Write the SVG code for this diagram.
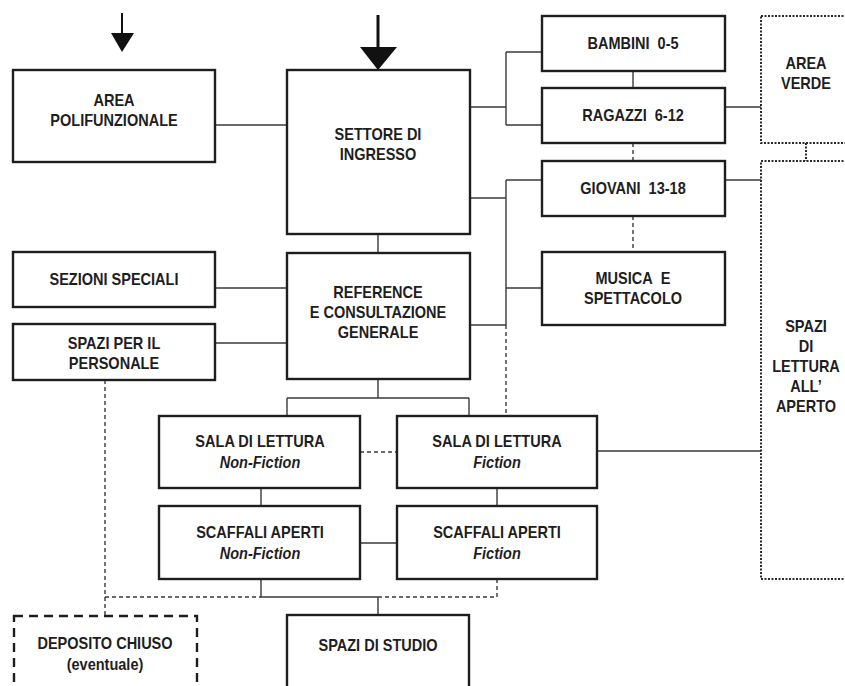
<svg xmlns="http://www.w3.org/2000/svg" width="845" height="686" viewBox="0 0 845 686">
  <style>
    .box { fill: #ffffff; stroke: #1e1e1e; stroke-width: 2.4; }
    .dashbox { fill: #ffffff; stroke: #1e1e1e; stroke-width: 2.4; stroke-dasharray: 9 6; }
    .dotbox { fill: #ffffff; stroke: #2a2a2a; stroke-width: 2; stroke-dasharray: 2 1.5; }
    .ln { fill: none; stroke: #3a3a3a; stroke-width: 1.4; }
    .dl { fill: none; stroke: #3a3a3a; stroke-width: 1.4; stroke-dasharray: 4 3; }
    .dt { fill: none; stroke: #2a2a2a; stroke-width: 2; stroke-dasharray: 2 1.5; }
    .arrow { fill: #111; }
    text { font-family: "Liberation Sans", Arial, sans-serif; font-weight: bold; font-size: 16.5px; fill: #1e1e1e; text-anchor: middle;
           transform-box: fill-box; transform-origin: center; transform: scaleX(0.88); }
    .it { font-style: italic; }
  </style>
  <rect width="845" height="686" fill="#ffffff"/>

  <!-- entrance arrows -->
  <g id="arrows">
    <line x1="122" y1="13" x2="122" y2="35" stroke="#111" stroke-width="2"/>
    <path class="arrow" d="M111 33 L134 33 L122 52 Z"/>
    <line x1="378" y1="15" x2="378" y2="49" stroke="#111" stroke-width="3"/>
    <path class="arrow" d="M360 47 L397 47 L378 70 Z"/>
  </g>

  <!-- connectors -->
  <g id="connectors">
    <!-- area polifunzionale - settore -->
    <path class="ln" d="M215 125 H287"/>
    <!-- settore - bambini / ragazzi -->
    <path class="ln" d="M470 107 H506 M506 52 V125 M506 52 H542 M506 125 H542"/>
    <!-- settore / reference - giovani, musica -->
    <path class="ln" d="M470 198 H506 M506 180 V325 M506 180 H542 M506 288 H542 M470 325 H506"/>
    <path class="dl" d="M506 325 V415"/>
    <!-- vertical chain of the youth sections -->
    <path class="ln" d="M633 71 V88"/>
    <path class="dl" d="M633 143 V161 M633 216 V252"/>
    <!-- outdoor areas -->
    <path class="ln" d="M725 107 H761 M725 180 H761 M597 451 H761"/>
    <path class="dt" d="M806 143 V161"/>
    <!-- settore - reference -->
    <path class="ln" d="M378 234 V253"/>
    <!-- side sections - reference -->
    <path class="ln" d="M215 288 H287 M215 343 H287"/>
    <!-- reference - reading rooms -->
    <path class="ln" d="M378 379 V398 M287 398 H469 M287 398 V416 M469 398 V416"/>
    <path class="dl" d="M360 452 H397"/>
    <!-- reading rooms - open shelves -->
    <path class="ln" d="M261 488 V506 M497 488 V506 M360 543 H397"/>
    <!-- open shelves - study / storage -->
    <path class="ln" d="M261 579 V597 H378 M378 597 V615"/>
    <path class="dl" d="M497 579 V597 H378"/>
    <path class="dl" d="M105 380 V597 H261 M105 597 V616"/>
  </g>

  <g id="area-polifunzionale">
    <rect class="box" x="13" y="70" width="202" height="92"/>
    <text x="114" y="106">AREA</text>
    <text x="114" y="126">POLIFUNZIONALE</text>
  </g>

  <g id="settore-ingresso">
    <rect class="box" x="287" y="70" width="183" height="164"/>
    <text x="378" y="140">SETTORE DI</text>
    <text x="378" y="160">INGRESSO</text>
  </g>

  <g id="bambini">
    <rect class="box" x="542" y="16" width="183" height="55"/>
    <text x="633" y="49">BAMBINI&#160; 0-5</text>
  </g>

  <g id="ragazzi">
    <rect class="box" x="542" y="88" width="183" height="55"/>
    <text x="633" y="121">RAGAZZI&#160; 6-12</text>
  </g>

  <g id="giovani">
    <rect class="box" x="542" y="161" width="183" height="55"/>
    <text x="633" y="194">GIOVANI&#160; 13-18</text>
  </g>

  <g id="musica">
    <rect class="box" x="542" y="252" width="183" height="73"/>
    <text x="633" y="284">MUSICA&#160; E</text>
    <text x="633" y="304">SPETTACOLO</text>
  </g>

  <g id="area-verde">
    <rect class="dotbox" x="761" y="16" width="100" height="127"/>
    <text x="806" y="69">AREA</text>
    <text x="806" y="89">VERDE</text>
  </g>

  <g id="spazi-lettura-aperto">
    <rect class="dotbox" x="761" y="161" width="100" height="418"/>
    <text x="806" y="332">SPAZI</text>
    <text x="806" y="352">DI</text>
    <text x="806" y="372">LETTURA</text>
    <text x="806" y="392">ALL’</text>
    <text x="806" y="412">APERTO</text>
  </g>

  <g id="sezioni-speciali">
    <rect class="box" x="13" y="252" width="202" height="55"/>
    <text x="114" y="285">SEZIONI SPECIALI</text>
  </g>

  <g id="spazi-personale">
    <rect class="box" x="13" y="324" width="202" height="56"/>
    <text x="114" y="349">SPAZI PER IL</text>
    <text x="114" y="369">PERSONALE</text>
  </g>

  <g id="reference">
    <rect class="box" x="287" y="253" width="183" height="126"/>
    <text x="378" y="298">REFERENCE</text>
    <text x="378" y="318">E CONSULTAZIONE</text>
    <text x="378" y="338">GENERALE</text>
  </g>

  <g id="sala-nonfiction">
    <rect class="box" x="159" y="416" width="201" height="72"/>
    <text x="260" y="447">SALA DI LETTURA</text>
    <text class="it" x="260" y="468">Non-Fiction</text>
  </g>

  <g id="sala-fiction">
    <rect class="box" x="397" y="416" width="200" height="72"/>
    <text x="497" y="447">SALA DI LETTURA</text>
    <text class="it" x="497" y="468">Fiction</text>
  </g>

  <g id="scaffali-nonfiction">
    <rect class="box" x="159" y="506" width="201" height="73"/>
    <text x="260" y="538">SCAFFALI APERTI</text>
    <text class="it" x="260" y="559">Non-Fiction</text>
  </g>

  <g id="scaffali-fiction">
    <rect class="box" x="397" y="506" width="200" height="73"/>
    <text x="497" y="538">SCAFFALI APERTI</text>
    <text class="it" x="497" y="559">Fiction</text>
  </g>

  <g id="deposito-chiuso">
    <rect class="dashbox" x="14" y="616" width="183" height="90"/>
    <text x="105" y="649">DEPOSITO CHIUSO</text>
    <text x="105" y="670">(eventuale)</text>
  </g>

  <g id="spazi-studio">
    <rect class="box" x="287" y="615" width="182" height="90"/>
    <text x="378" y="651">SPAZI DI STUDIO</text>
  </g>
</svg>
